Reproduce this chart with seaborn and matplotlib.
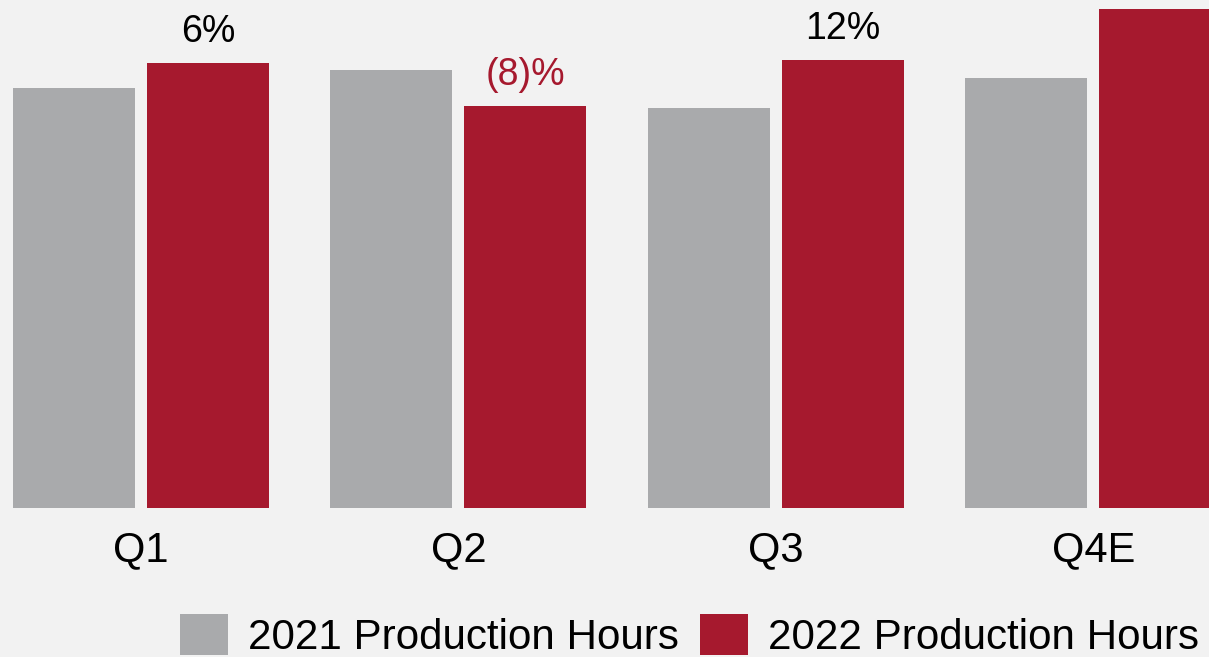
import matplotlib
matplotlib.use("Agg")
import matplotlib.pyplot as plt
import seaborn as sns
import pandas as pd
from matplotlib.patches import Patch

quarters = ["Q1", "Q2", "Q3", "Q4E"]
hours_2021 = [420, 438, 400, 430]
hours_2022 = [445, 402, 448, 499]
change_labels = ["6%", "(8)%", "12%", ""]
series_names = ["2021 Production Hours", "2022 Production Hours"]

BG = "#f2f2f2"
GRAY = "#a9aaac"
RED = "#a6192e"

df = pd.DataFrame({
    "Quarter": quarters * 2,
    "Hours": hours_2021 + hours_2022,
    "Series": [series_names[0]] * 4 + [series_names[1]] * 4,
})

sns.set_theme(style="white")
plt.rcParams["font.family"] = ["Liberation Sans", "DejaVu Sans"]
plt.rcParams["text.color"] = "black"

fig = plt.figure(figsize=(12.09, 6.57), dpi=100, facecolor=BG)
ax = fig.add_axes([0, 1 - 508 / 657, 1, 508 / 657])
ax.set_facecolor(BG)

sns.barplot(data=df, x="Quarter", y="Hours", hue="Series", order=quarters,
            hue_order=series_names, palette=[GRAY, RED], saturation=1,
            width=0.844, gap=0.0896, linewidth=0, edgecolor="none",
            errorbar=None, legend=False, ax=ax)

ax.set_xlim(-0.444, 3.364)
ax.set_ylim(0, 508)
ax.set_xlabel("")
ax.set_ylabel("")
ax.set_yticks([])
ax.tick_params(axis="x", length=0, pad=16, labelsize=30, colors="black")
for s in ax.spines.values():
    s.set_visible(False)

red_bars = ax.containers[1]
for bar, lab in zip(red_bars, change_labels):
    if not lab:
        continue
    col = RED if lab.startswith("(") else "black"
    ax.annotate(lab, (bar.get_x() + bar.get_width() / 2, bar.get_height()),
                xytext=(0, 15), textcoords="offset points", ha="center",
                va="baseline", fontsize=27, color=col, annotation_clip=False)

handles = [Patch(facecolor=GRAY, edgecolor="none"), Patch(facecolor=RED, edgecolor="none")]
fig.legend(handles, series_names, loc="upper left", bbox_to_anchor=(180 / 1209, 1 - 614 / 657),
           ncol=2, frameon=False, fontsize=30.3, handlelength=1.14, handleheight=1.14,
           handletextpad=0.48, columnspacing=0.5, borderpad=0, borderaxespad=0,
           labelcolor="black")

fig.savefig("out.png", dpi=100, facecolor=BG)
